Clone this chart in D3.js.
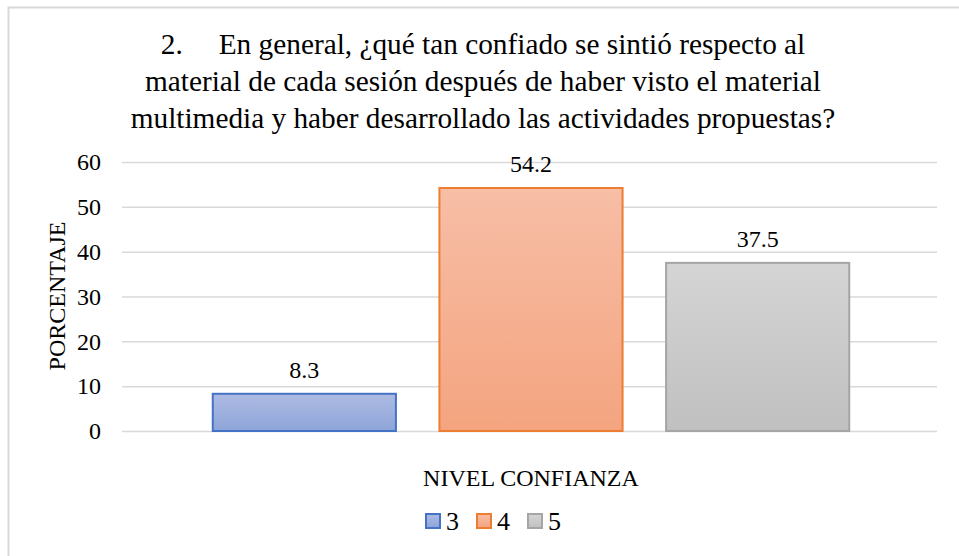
<!DOCTYPE html>
<html>
<head>
<meta charset="utf-8">
<script src="https://cdn.jsdelivr.net/npm/d3@7"></script>
<style>
  html, body { margin: 0; padding: 0; background: #fff; }
  svg { display: block; }
  svg text, svg tspan { font-family: 'Liberation Serif', serif !important; }
</style>
</head>
<body>
<svg id="chart" width="959" height="556"></svg>
<script>
// ---- data ----
const titleLines = [
  "En general, ¿qué tan confiado se sintió respecto al",
  "material de cada sesión después de haber visto el material",
  "multimedia y haber desarrollado las actividades propuestas?"
];
const titleNumber = "2.";
const categories = ["3", "4", "5"];
const values = [8.3, 54.2, 37.5];
const yTicks = [0, 10, 20, 30, 40, 50, 60];
const xAxisTitle = "NIVEL CONFIANZA";
const yAxisTitle = "PORCENTAJE";

// ---- styles ----
const FONT = "'Liberation Serif', serif";
const fills = [
  { top: "#aebbe3", bottom: "#8ea5d9", stroke: "#4472c4" },
  { top: "#f7bea6", bottom: "#f4a47f", stroke: "#ed7d31" },
  { top: "#d5d5d5", bottom: "#c0c0c0", stroke: "#a5a5a5" }
];

const svg = d3.select("#chart");
const defs = svg.append("defs");
fills.forEach((f, i) => {
  const g = defs.append("linearGradient").attr("id", "grad" + i)
    .attr("x1", 0).attr("y1", 0).attr("x2", 0).attr("y2", 1);
  g.append("stop").attr("offset", "0%").attr("stop-color", f.top);
  g.append("stop").attr("offset", "100%").attr("stop-color", f.bottom);
});

// chart border (extends past viewport on right/bottom)
svg.append("rect").attr("x", 8.5).attr("y", 7.5).attr("width", 1000).attr("height", 600)
  .attr("fill", "none").attr("stroke", "#d9d9d9").attr("stroke-width", 2);

// title
const title = svg.append("text").attr("text-anchor", "middle").attr("font-size", 29.3)
  .attr("font-family", FONT).attr("fill", "#000");
titleLines.forEach((line, i) => {
  const t = title.append("tspan").attr("x", 483).attr("y", 54 + i * 37);
  if (i === 0) {
    t.text(titleNumber);
    title.append("tspan").attr("dx", 36).text(line);
  } else {
    t.text(line);
  }
});

// scales
const plot = { left: 122, right: 937, top: 162, bottom: 431 };
const y = d3.scaleLinear().domain([0, 60]).range([plot.bottom, plot.top]);
const x = d3.scaleBand().domain(categories).range([191, 871]).paddingInner(0.192).paddingOuter(0.096);

// gridlines + tick labels
const yAxis = d3.axisLeft(y).tickValues(yTicks).tickSize(-(plot.right - plot.left)).tickPadding(21);
const gy = svg.append("g").attr("transform", `translate(${plot.left},0)`).call(yAxis);
gy.attr("font-family", FONT);
gy.select(".domain").remove();
gy.selectAll(".tick line").attr("stroke", "#d9d9d9").attr("stroke-width", 1.5);
gy.selectAll(".tick text").attr("font-size", 24).attr("fill", "#000").attr("font-family", FONT);

// bars
svg.selectAll("rect.bar").data(values).enter().append("rect").attr("class", "bar")
  .attr("x", (d, i) => x(categories[i]))
  .attr("y", d => y(d))
  .attr("width", x.bandwidth())
  .attr("height", d => y(0) - y(d))
  .attr("fill", (d, i) => `url(#grad${i})`)
  .attr("stroke", (d, i) => fills[i].stroke)
  .attr("stroke-width", 2);

// data labels
svg.selectAll("text.lbl").data(values).enter().append("text").attr("class", "lbl")
  .attr("x", (d, i) => x(categories[i]) + x.bandwidth() / 2)
  .attr("y", d => y(d) - 16)
  .attr("text-anchor", "middle").attr("font-size", 24).attr("font-family", FONT).attr("fill", "#000")
  .text(d => d.toFixed(1));

// axis titles
svg.append("text").attr("x", 531).attr("y", 486).attr("text-anchor", "middle")
  .attr("font-size", 24).attr("font-family", FONT).attr("fill", "#000").text(xAxisTitle);
svg.append("text").attr("transform", "translate(65,296) rotate(-90)").attr("text-anchor", "middle")
  .attr("font-size", 24).attr("font-family", FONT).attr("fill", "#000").text(yAxisTitle);

// legend
const legend = svg.append("g").attr("transform", "translate(425,0)");
categories.forEach((c, i) => {
  const g = legend.append("g").attr("transform", `translate(${i * 51},0)`);
  g.append("rect").attr("x", 1).attr("y", 514).attr("width", 14).attr("height", 14)
    .attr("fill", `url(#grad${i})`).attr("stroke", fills[i].stroke).attr("stroke-width", 2);
  g.append("text").attr("x", 21).attr("y", 530).attr("font-size", 26).attr("font-family", FONT)
    .attr("fill", "#000").text(c);
});
</script>
</body>
</html>
